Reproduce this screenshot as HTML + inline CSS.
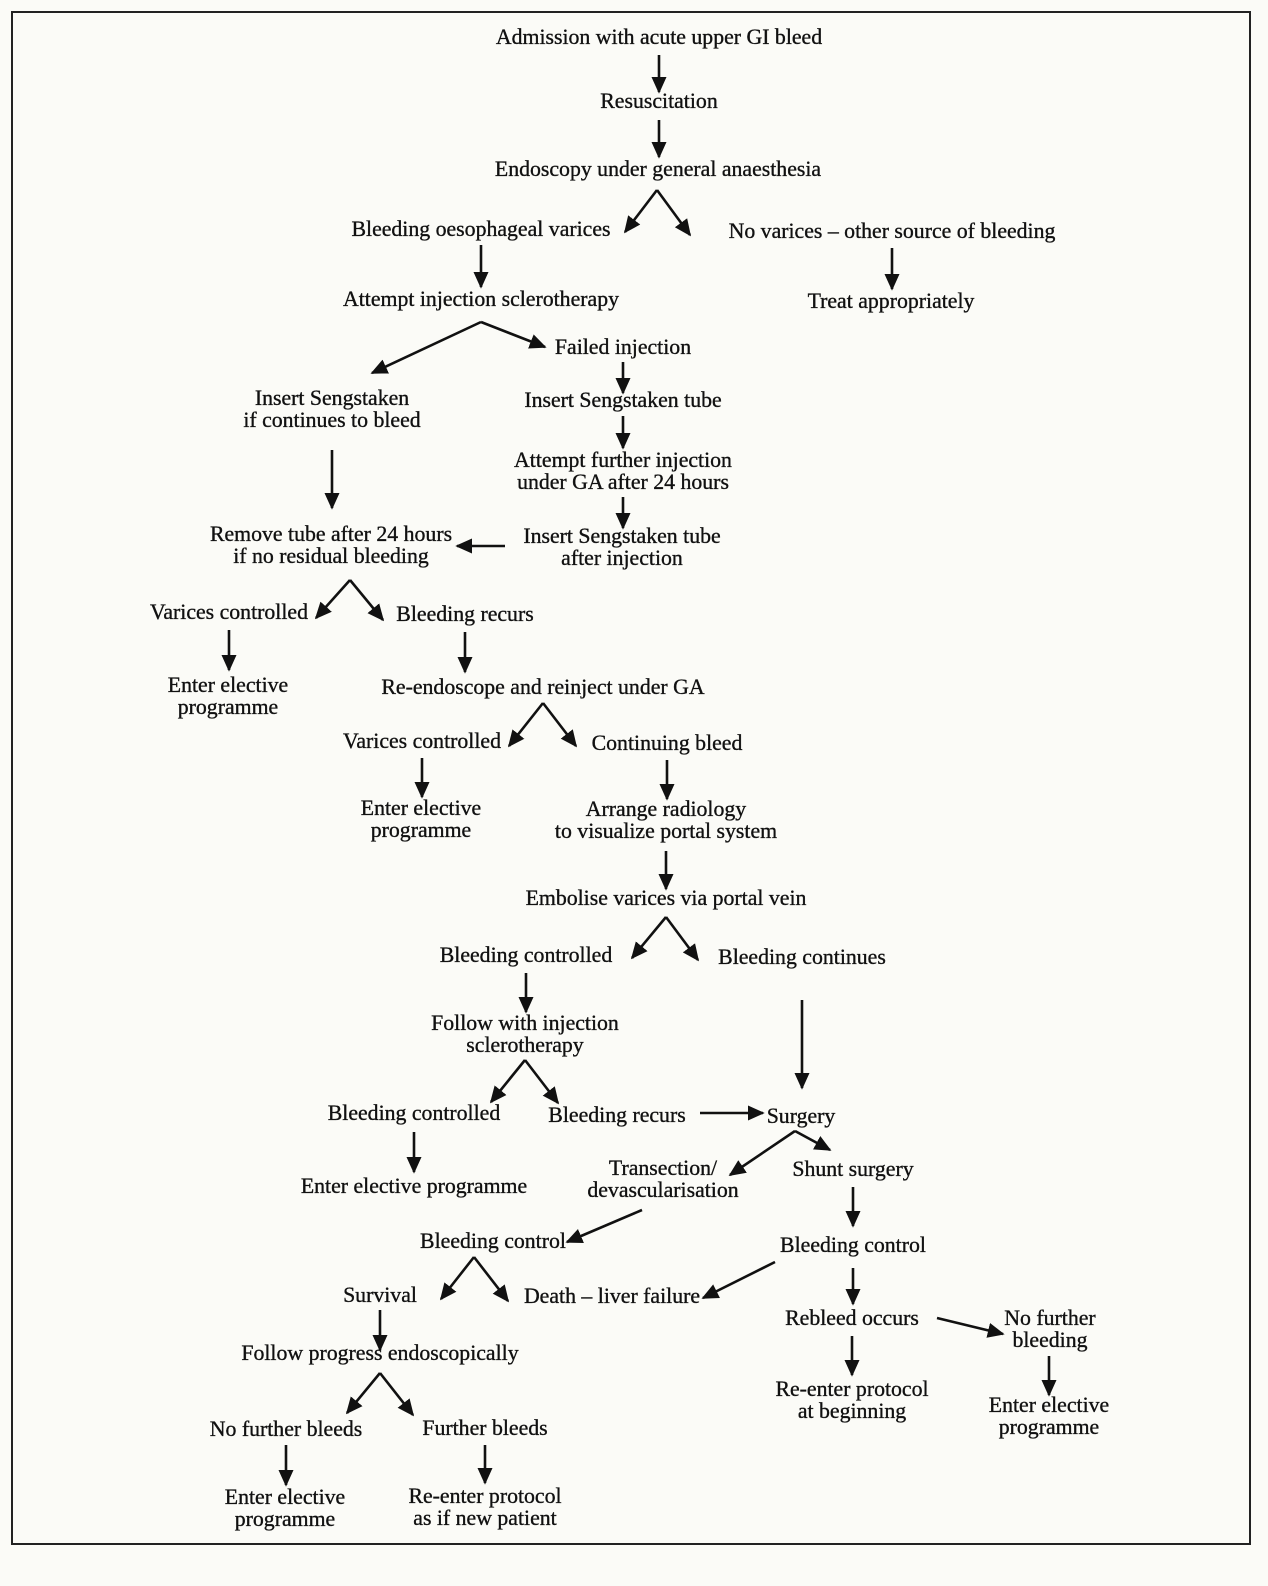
<!DOCTYPE html>
<html><head><meta charset="utf-8"><style>
html,body{margin:0;padding:0;background:#fbfbf7;}
svg{display:block;}
text{font-family:"Liberation Serif",serif;font-size:21.8px;fill:#111;stroke:#111;stroke-width:0.35;text-anchor:middle;}
line{stroke:#111;stroke-width:2.6;}
</style></head><body>
<svg width="1268" height="1586" viewBox="0 0 1268 1586" xmlns="http://www.w3.org/2000/svg">
<defs><marker id="a" viewBox="0 0 10 10" refX="9" refY="5" markerWidth="6.5" markerHeight="6.5" orient="auto" markerUnits="strokeWidth"><path d="M0,0.5 L10,5 L0,9.5 z" fill="#111"/></marker></defs>
<rect x="12" y="12" width="1238" height="1532" fill="#fbfbf7" stroke="#222" stroke-width="2"/>
<g>
<text x="659" y="44">Admission with acute upper GI bleed</text>
<text x="659" y="108">Resuscitation</text>
<text x="658" y="176">Endoscopy under general anaesthesia</text>
<text x="481" y="236">Bleeding oesophageal varices</text>
<text x="892" y="238">No varices – other source of bleeding</text>
<text x="481" y="306">Attempt injection sclerotherapy</text>
<text x="891" y="308">Treat appropriately</text>
<text x="623" y="354">Failed injection</text>
<text x="332" y="405">Insert Sengstaken</text>
<text x="332" y="427">if continues to bleed</text>
<text x="623" y="407">Insert Sengstaken tube</text>
<text x="623" y="467">Attempt further injection</text>
<text x="623" y="489">under GA after 24 hours</text>
<text x="622" y="543">Insert Sengstaken tube</text>
<text x="622" y="565">after injection</text>
<text x="331" y="541">Remove tube after 24 hours</text>
<text x="331" y="563">if no residual bleeding</text>
<text x="229" y="619">Varices controlled</text>
<text x="465" y="621">Bleeding recurs</text>
<text x="228" y="692">Enter elective</text>
<text x="228" y="714">programme</text>
<text x="543" y="694">Re-endoscope and reinject under GA</text>
<text x="422" y="748">Varices controlled</text>
<text x="667" y="750">Continuing bleed</text>
<text x="421" y="815">Enter elective</text>
<text x="421" y="837">programme</text>
<text x="666" y="816">Arrange radiology</text>
<text x="666" y="838">to visualize portal system</text>
<text x="666" y="905">Embolise varices via portal vein</text>
<text x="526" y="962">Bleeding controlled</text>
<text x="802" y="964">Bleeding continues</text>
<text x="525" y="1030">Follow with injection</text>
<text x="525" y="1052">sclerotherapy</text>
<text x="414" y="1120">Bleeding controlled</text>
<text x="617" y="1122">Bleeding recurs</text>
<text x="801" y="1123">Surgery</text>
<text x="414" y="1193">Enter elective programme</text>
<text x="663" y="1175">Transection/</text>
<text x="663" y="1197">devascularisation</text>
<text x="853" y="1176">Shunt surgery</text>
<text x="493" y="1248">Bleeding control</text>
<text x="853" y="1252">Bleeding control</text>
<text x="380" y="1302">Survival</text>
<text x="612" y="1303">Death – liver failure</text>
<text x="852" y="1325">Rebleed occurs</text>
<text x="1050" y="1325">No further</text>
<text x="1050" y="1347">bleeding</text>
<text x="380" y="1360">Follow progress endoscopically</text>
<text x="852" y="1396">Re-enter protocol</text>
<text x="852" y="1418">at beginning</text>
<text x="1049" y="1412">Enter elective</text>
<text x="1049" y="1434">programme</text>
<text x="286" y="1436">No further bleeds</text>
<text x="485" y="1435">Further bleeds</text>
<text x="285" y="1504">Enter elective</text>
<text x="285" y="1526">programme</text>
<text x="485" y="1503">Re-enter protocol</text>
<text x="485" y="1525">as if new patient</text>
</g>
<g marker-end="url(#a)">
<line x1="659" y1="55" x2="659" y2="92"/>
<line x1="659" y1="120" x2="659" y2="157"/>
<line x1="657" y1="190" x2="625" y2="232"/>
<line x1="657" y1="190" x2="690" y2="235"/>
<line x1="481" y1="245" x2="481" y2="287"/>
<line x1="892" y1="248" x2="892" y2="289"/>
<line x1="481" y1="322" x2="372" y2="373"/>
<line x1="481" y1="322" x2="545" y2="347"/>
<line x1="623" y1="362" x2="623" y2="393"/>
<line x1="623" y1="416" x2="623" y2="448"/>
<line x1="623" y1="497" x2="623" y2="528"/>
<line x1="332" y1="450" x2="332" y2="508"/>
<line x1="505" y1="546" x2="457" y2="546"/>
<line x1="350" y1="580" x2="316" y2="618"/>
<line x1="350" y1="580" x2="383" y2="620"/>
<line x1="229" y1="630" x2="229" y2="670"/>
<line x1="465" y1="632" x2="465" y2="672"/>
<line x1="543" y1="703" x2="509" y2="746"/>
<line x1="543" y1="703" x2="576" y2="746"/>
<line x1="422" y1="758" x2="422" y2="797"/>
<line x1="667" y1="760" x2="667" y2="799"/>
<line x1="666" y1="851" x2="666" y2="889"/>
<line x1="666" y1="917" x2="632" y2="958"/>
<line x1="666" y1="917" x2="698" y2="960"/>
<line x1="526" y1="973" x2="526" y2="1012"/>
<line x1="802" y1="1000" x2="802" y2="1088"/>
<line x1="525" y1="1060" x2="491" y2="1102"/>
<line x1="525" y1="1060" x2="558" y2="1103"/>
<line x1="700" y1="1113" x2="763" y2="1113"/>
<line x1="414" y1="1132" x2="414" y2="1172"/>
<line x1="795" y1="1131" x2="730" y2="1175"/>
<line x1="795" y1="1131" x2="830" y2="1150"/>
<line x1="853" y1="1187" x2="853" y2="1226"/>
<line x1="642" y1="1210" x2="567" y2="1242"/>
<line x1="474" y1="1257" x2="441" y2="1299"/>
<line x1="474" y1="1257" x2="508" y2="1301"/>
<line x1="775" y1="1262" x2="703" y2="1298"/>
<line x1="853" y1="1268" x2="853" y2="1304"/>
<line x1="937" y1="1318" x2="1003" y2="1334"/>
<line x1="380" y1="1310" x2="380" y2="1350"/>
<line x1="852" y1="1336" x2="852" y2="1375"/>
<line x1="1049" y1="1356" x2="1049" y2="1395"/>
<line x1="380" y1="1373" x2="347" y2="1413"/>
<line x1="380" y1="1373" x2="413" y2="1415"/>
<line x1="286" y1="1445" x2="286" y2="1485"/>
<line x1="485" y1="1445" x2="485" y2="1483"/>
</g>
</svg>
</body></html>
